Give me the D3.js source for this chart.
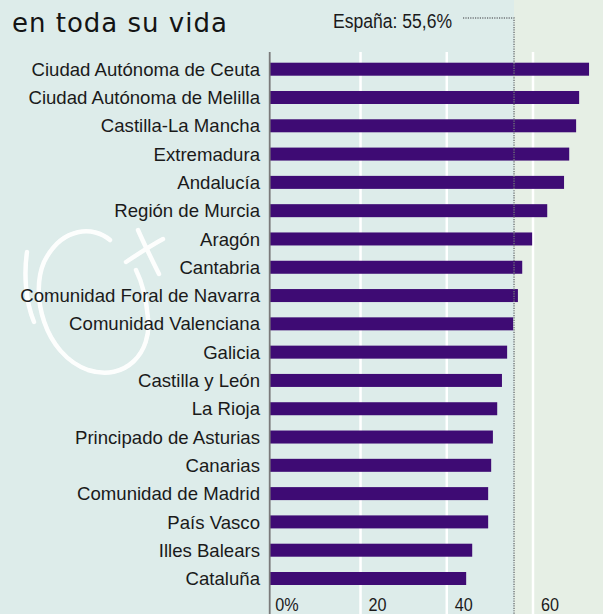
<!DOCTYPE html>
<html>
<head>
<meta charset="utf-8">
<script src="https://cdn.jsdelivr.net/npm/d3@7"></script>
<style>
  html, body { margin: 0; padding: 0; background: #ddecea; }
  svg { display: block; }
</style>
</head>
<body>
<svg id="chart"></svg>
<script>
// data
const regions = [
  "Ciudad Autónoma de Ceuta", "Ciudad Autónoma de Melilla", "Castilla-La Mancha",
  "Extremadura", "Andalucía", "Región de Murcia", "Aragón", "Cantabria",
  "Comunidad Foral de Navarra", "Comunidad Valenciana", "Galicia", "Castilla y León",
  "La Rioja", "Principado de Asturias", "Canarias", "Comunidad de Madrid",
  "País Vasco", "Illes Balears", "Cataluña"
];
const values = [73.0, 70.7, 70.0, 68.4, 67.2, 63.3, 59.8, 57.5, 56.5, 55.4,
                54.0, 52.8, 51.7, 50.7, 50.3, 49.6, 49.6, 45.9, 44.5];
const spainValue = 55.6;
const spainLabel = "España: 55,6%";
const tickValues = [0, 20, 40, 60];
const tickLabels = ["0%", "20", "40", "60"];
const title = "en toda su vida";

const w = 603, h = 614;
const svg = d3.select('#chart').attr('width', w).attr('height', h);

const x = d3.scaleLinear().domain([0, 60]).range([274.3, 533]);
const y = d3.scalePoint().domain(regions).range([69.2, 578.5]);
const barH = 13;
const axisX = x(0) - 4.6;
const plotTop = 52;

// backgrounds
svg.append('rect').attr('x', 0).attr('y', 0).attr('width', w).attr('height', h)
  .attr('fill', '#ddecea');
svg.append('rect').attr('x', x(spainValue)).attr('y', 0)
  .attr('width', w - x(spainValue)).attr('height', h)
  .attr('fill', '#e6efe5');

// hand drawn symbol in the background
const mark = svg.append('g').attr('fill', 'none').attr('stroke', '#ffffff')
  .attr('stroke-width', 4.5).attr('stroke-linecap', 'round').attr('opacity', 0.95);
mark.append('path').attr('d', 'M110,240 C94,226 62,226 44,262 C30,294 44,354 88,370 C126,382 152,352 148,318 C146,296 142,282 136,270');
mark.append('path').attr('d', 'M27,252 C24,272 25,300 34,322');
mark.append('path').attr('d', 'M138,230 C145,246 152,260 159,274');
mark.append('path').attr('d', 'M126,262 C138,254 150,246 163,239');

// grid lines
svg.selectAll('.grid')
  .data(tickValues.filter(d => d > 0))
  .join('line')
    .attr('x1', d => x(d)).attr('x2', d => x(d))
    .attr('y1', plotTop).attr('y2', h)
    .attr('stroke', '#ffffff').attr('stroke-width', 2.5);

// bars
svg.selectAll('.bar')
  .data(regions)
  .join('rect')
    .attr('x', axisX)
    .attr('y', d => y(d) - barH / 2)
    .attr('width', (d, i) => x(values[i]) - axisX)
    .attr('height', barH)
    .attr('fill', '#3e0b74');

// zero axis
svg.append('line')
  .attr('x1', axisX).attr('x2', axisX).attr('y1', plotTop).attr('y2', h)
  .attr('stroke', '#7a7a7a').attr('stroke-width', 1.8);

// region labels
svg.selectAll('.label')
  .data(regions)
  .join('text')
    .attr('x', 260)
    .attr('y', d => y(d) + 6.6)
    .attr('text-anchor', 'end')
    .style('font-family', '"Liberation Sans", Arial, sans-serif')
    .style('font-size', '18.6px')
    .attr('fill', '#1a1a1a')
    .text(d => d);

// average line (España)
const sx = x(spainValue);
svg.append('path')
  .attr('d', `M463,18 L${sx},18 L${sx},${h}`)
  .attr('fill', 'none')
  .attr('stroke', '#6f7477').attr('stroke-width', 1.4)
  .attr('stroke-dasharray', '1.2,1.2');

svg.append('g').attr('transform', 'translate(333,27.5) scale(0.9,1)')
  .append('text')
    .style('font-family', '"Liberation Sans", Arial, sans-serif')
    .style('font-size', '19.5px')
    .attr('fill', '#1a1a1a')
    .text(spainLabel);

// tick labels
svg.selectAll('.tick')
  .data(tickValues)
  .join('g')
    .attr('transform', d => `translate(${d === 0 ? x(d) + 1 : x(d) + 8},611) scale(0.9,1)`)
  .append('text')
    .style('font-family', '"Liberation Sans", Arial, sans-serif')
    .style('font-size', '18px')
    .attr('fill', '#1a1a1a')
    .text((d, i) => tickLabels[i]);

// title
svg.append('text')
  .attr('x', 12).attr('y', 32)
  .style('font-family', '"DejaVu Sans", sans-serif')
  .style('font-size', '26px')
  .style('letter-spacing', '1px')
  .attr('fill', '#141414')
  .text(title);
</script>
</body>
</html>
